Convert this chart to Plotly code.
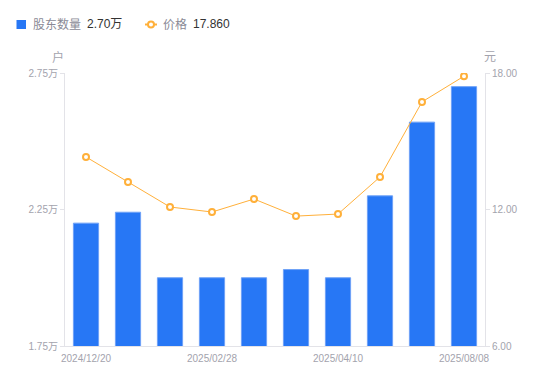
import plotly.graph_objects as go

dates = ["2024/12/20", "2024/12/31", "2025/01/20", "2025/02/28", "2025/03/10",
         "2025/03/20", "2025/04/10", "2025/06/30", "2025/07/31", "2025/08/08"]
holders = [2.20, 2.24, 2.00, 2.00, 2.00, 2.03, 2.00, 2.30, 2.57, 2.70]  # 万户
price = [14.31, 13.21, 12.11, 11.89, 12.46, 11.71, 11.80, 13.43, 16.73, 17.86]
tick_dates = ["2024/12/20", "2025/02/28", "2025/04/10", "2025/08/08"]
left_ticks = [1.75, 2.25, 2.75]
right_ticks = [6, 12, 18]

BLUE = "#2777f5"
ORANGE = "#ffb03a"
GREY = "#a3a3ad"
AXIS = "#e3e3e8"
FONT = "Arial, Liberation Sans, Noto Sans CJK SC, sans-serif"

OFF = 8  # page body margin
W, H = 550 - OFF, 381 - OFF
L, R, T, B = 65 - OFF, 65, 73 - OFF, 35
pw, ph = W - L - R, H - T - B


def px(x):  # window pixel -> paper
    return (x - OFF - L) / pw


def py(y):
    return (H - B - (y - OFF)) / ph


fig = go.Figure()
fig.add_trace(go.Bar(x=dates, y=holders, marker=dict(color=BLUE, line=dict(color="#6fa2f7", width=1)),
                     name="股东数量", yaxis="y"))
fig.add_trace(go.Scatter(x=dates, y=price, mode="lines+markers", name="价格", yaxis="y2",
                         line=dict(color=ORANGE, width=1),
                         marker=dict(symbol="circle", size=6, color="white",
                                     line=dict(color=ORANGE, width=2))))

fig.update_layout(
    width=W, height=H,
    margin=dict(l=L, r=R, t=T, b=B, pad=0, autoexpand=False),
    paper_bgcolor="white", plot_bgcolor="white",
    showlegend=False,
    bargap=0.4,
    font=dict(family=FONT, size=10, color=GREY),
    xaxis=dict(type="category", tickmode="array", tickvals=tick_dates, ticktext=tick_dates,
               range=[-0.5, len(dates) - 0.5], automargin=False, ticklabelstandoff=3,
               showgrid=False, showline=True, linecolor=AXIS, linewidth=1,
               ticks="", tickfont=dict(size=10, color=GREY), zeroline=False),
    yaxis=dict(range=[1.75, 2.75], tickvals=left_ticks, automargin=False,
               ticktext=[f"{v:.2f}万" for v in left_ticks],
               showgrid=False, showline=True, linecolor=AXIS, linewidth=1,
               ticks="outside", ticklen=4, tickcolor=AXIS, zeroline=False,
               tickfont=dict(size=10, color=GREY)),
    yaxis2=dict(range=[6, 18], tickvals=right_ticks, automargin=False,
                ticktext=[f"{v:.2f}" for v in right_ticks],
                overlaying="y", side="right",
                showgrid=False, showline=True, linecolor=AXIS, linewidth=1,
                ticks="outside", ticklen=4, tickcolor=AXIS, zeroline=False,
                tickfont=dict(size=10, color=GREY)),
)

# axis unit titles
fig.add_annotation(x=px(58), y=py(57), xref="paper", yref="paper", text="户", showarrow=False,
                   font=dict(size=12, color=GREY), xanchor="center", yanchor="middle")
fig.add_annotation(x=px(490), y=py(57), xref="paper", yref="paper", text="元", showarrow=False,
                   font=dict(size=12, color=GREY), xanchor="center", yanchor="middle")

# custom legend
ly = 24.5
fig.add_shape(type="rect", xref="paper", yref="paper",
              x0=px(16.5), x1=px(26), y0=py(ly - 4.5), y1=py(ly + 4.5),
              fillcolor=BLUE, line=dict(width=0))
fig.add_annotation(x=px(31), y=py(ly), xref="paper", yref="paper", text="股东数量",
                   showarrow=False, xanchor="left", yanchor="middle",
                   font=dict(size=12, color="#8a8a96"))
fig.add_annotation(x=px(85), y=py(ly), xref="paper", yref="paper", text=f"{holders[-1]:.2f}万",
                   showarrow=False, xanchor="left", yanchor="middle",
                   font=dict(size=12, color="#333333"))
fig.add_shape(type="line", xref="paper", yref="paper",
              x0=px(145), x1=px(157), y0=py(ly), y1=py(ly),
              line=dict(color=ORANGE, width=2))
fig.add_shape(type="circle", xref="paper", yref="paper",
              x0=px(148), x1=px(154), y0=py(ly - 3), y1=py(ly + 3),
              fillcolor="white", line=dict(color=ORANGE, width=2))
fig.add_annotation(x=px(161), y=py(ly), xref="paper", yref="paper", text="价格",
                   showarrow=False, xanchor="left", yanchor="middle",
                   font=dict(size=12, color="#8a8a96"))
fig.add_annotation(x=px(191), y=py(ly), xref="paper", yref="paper", text=f"{price[-1]:.3f}",
                   showarrow=False, xanchor="left", yanchor="middle",
                   font=dict(size=12, color="#333333"))

fig.write_html("out.html")
